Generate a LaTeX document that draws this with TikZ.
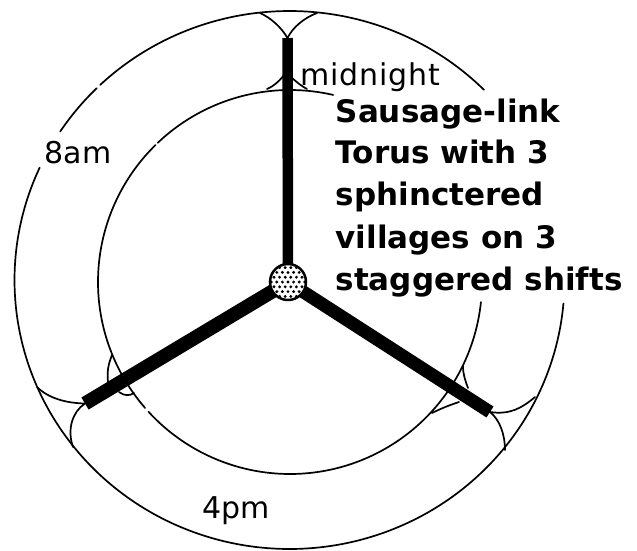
\documentclass[tikz,border=0pt]{standalone}
\usepackage{fontspec}
\setmainfont{DejaVu Sans}[LetterSpace=0]
\newfontfamily\lightlbl{DejaVu Sans}[LetterSpace=3]
\newfontfamily\boldlbl{DejaVu Sans Bold}
\newcommand{\outerarc}[2]{\draw[ring] plot[smooth,samples=90,domain=#1:#2] ({289.5+275*cos(\x)},{280+269*sin(\x)});}
\newcommand{\innerarc}[2]{\draw[ring] plot[smooth,samples=90,domain=#1:#2] ({290+192*cos(\x)},{282+192*sin(\x)});}
\begin{document}
\begin{tikzpicture}[x=1pt,y=-1pt,
  ring/.style={line width=1.7pt,line cap=round,line join=round},
  spoke/.style={line width=#1,black,shorten <=-2pt},
  small label/.style={font=\fontsize{30}{30}\selectfont,inner sep=0pt,anchor=base},
  title/.style={font=\boldlbl\fontsize{31}{31}\selectfont,inner sep=0pt,anchor=base west},
  hub/.style={circle,minimum size=36pt,inner sep=0pt,draw=black,line width=2.5pt}]
\useasboundingbox (0,0) rectangle (637,550);
% circles (the caption and the labels hide parts of them)
\outerarc{5}{204.7}
\outerarc{213.5}{225.5}
\outerarc{226.5}{315}
\innerarc{6}{137.5}
\innerarc{139}{225.5}
\innerarc{226.5}{283}
% hub and spoke tips
\node[hub] (h) at (288,282) {};
\coordinate (tN) at (287.5,38);
\coordinate (tW) at (85,403.5);
\coordinate (tE) at (490,412);
% cusps at the tips, outer ring
\draw[ring] (260,13) .. controls (271,18) and (281,27) .. (tN) .. controls (293,27) and (304,18) .. (317,13);
\draw[ring] (37,387) .. controls (45,395) and (60,403) .. (tW) .. controls (72,412) and (67,430) .. (73,447);
\draw[ring] (tE) .. controls (510,415) and (522,408) .. (535,397);
\draw[ring] (tE) .. controls (500,420) and (505,435) .. (505,450);
% cusps, inner ring
\draw[ring] (267,89) .. controls (274,86) and (281,80) .. (286,72) .. controls (292,78) and (298,84) .. (307,89);
\draw[ring] (112,355) .. controls (108,365) and (107,372) .. (108,382);
\draw[ring] (119,392) .. controls (124,396) and (130,396) .. (134,393);
\draw[ring] (463,366) .. controls (463,374) and (465,380) .. (468,388);
\draw[ring] (459,402) .. controls (450,405) and (442,408) .. (432,413);
% spokes
\draw[spoke=10.5pt] (h) -- (tN);
\draw[spoke=14pt] (h) -- (tW);
\draw[spoke=13pt] (h) -- (tE);
% hub stipple
\begin{scope}
\clip (h.center) circle (17);
\foreach \i in {-4,...,4} \foreach \j in {-4,...,4}
  \fill ({288+\i*5.6+mod(\j+4,2)*2.8},{282+\j*4.8}) circle (1.6);
\end{scope}
\node[small label,font=\lightlbl\fontsize{30}{30}\selectfont,anchor=base west] (mid) at (300,85) {midnight};
\node[small label] (am) at (78,163.5) {8am};
\node[small label] (pm) at (236,518) {4pm};
\node[title] (l1) at (335.5,122) {Sausage-link};
\node[title] (l2) at (335.5,163) {Torus with 3};
\node[title] (l3) at (335.5,205) {sphinctered};
\node[title] (l4) at (335.5,248) {villages on 3};
\node[title] (l5) at (335.5,290) {staggered shifts};
\end{tikzpicture}
\end{document}
